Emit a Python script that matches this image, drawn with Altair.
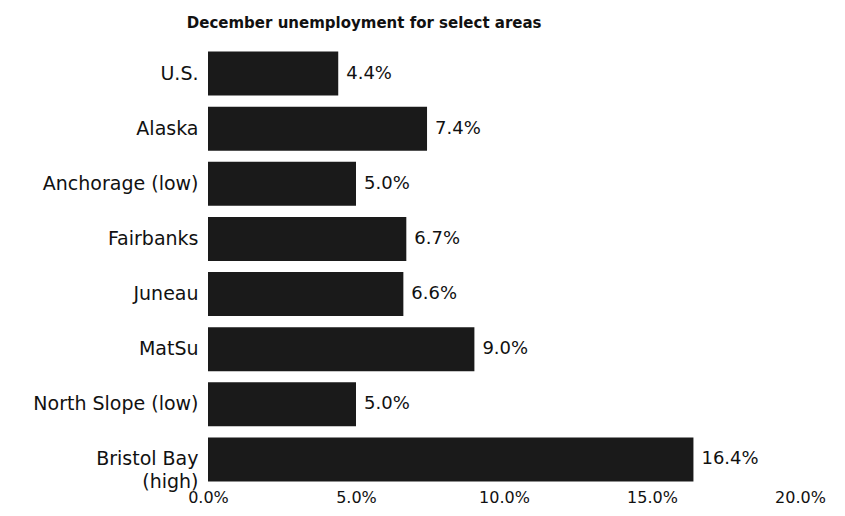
import altair as alt
import pandas as pd

areas = ["U.S.", "Alaska", "Anchorage (low)", "Fairbanks", "Juneau", "MatSu",
         "North Slope (low)", "Bristol Bay (high)"]
rates = [4.4, 7.4, 5.0, 6.7, 6.6, 9.0, 5.0, 16.4]
x_ticks = [0, 5, 10, 15, 20]

df = pd.DataFrame({"area": areas, "rate": rates})

y_enc = alt.Y(
    "area:N", sort=areas, title=None,
    scale=alt.Scale(paddingInner=0.2, paddingOuter=0.1),
    axis=alt.Axis(
        domain=False, ticks=False, labelFont="DejaVu Sans", labelFontSize=19,
        labelColor="#111111", labelPadding=10, labelLimit=300,
        labelExpr="datum.value == 'Bristol Bay (high)' ? ['Bristol Bay', '(high)'] : datum.value",
        labelLineHeight=23,
    ),
)
x_enc = alt.X(
    "rate:Q", title=None,
    scale=alt.Scale(domain=[0, 20], nice=False),
    axis=alt.Axis(
        values=x_ticks, domain=False, ticks=False, grid=False,
        labelExpr="format(datum.value, '.1f') + '%'",
        labelFont="DejaVu Sans", labelFontSize=16, labelColor="#111111",
        labelPadding=2, labelFlush=False,
    ),
)

bars = alt.Chart(df).mark_bar(color="#1a1a1a").encode(x=x_enc, y=y_enc)
labels = alt.Chart(df).mark_text(
    align="left", baseline="middle", dx=8, font="DejaVu Sans", fontSize=18, color="#111111"
).transform_calculate(
    lbl="format(datum.rate, '.1f') + '%'"
).encode(
    x="rate:Q", y=alt.Y("area:N", sort=areas), text="lbl:N",
)

chart = (bars + labels).properties(
    width=592, height=441,
    title=alt.TitleParams(
        "December unemployment for select areas", anchor="start", dx=154,
        font="DejaVu Sans", fontSize=15, fontWeight="bold", color="#111111", offset=15,
    ),
    padding={"left": 24, "top": 8, "right": 5, "bottom": 5},
    background="white",
).configure_view(stroke=None)

chart.save("out.html", embed_options={"renderer": "svg", "actions": False})
